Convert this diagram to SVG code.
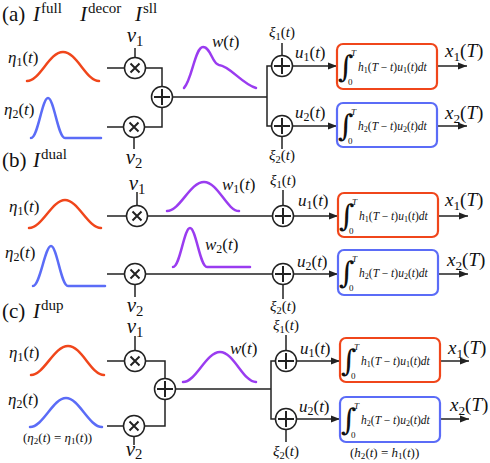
<svg xmlns="http://www.w3.org/2000/svg" width="490" height="463" viewBox="0 0 490 463">
<style>
.m{font-family:'Liberation Serif','DejaVu Serif',serif;font-style:italic;fill:#111}
.r{font-style:normal}
.sb{font-style:normal;font-size:70%}
.t{font-size:17px}
.v{font-size:21px}
.x{font-size:19px}
.xi{font-size:15px}
.h{font-size:11.5px}
.n{font-size:13px}
.w{fill:none;stroke:#222;stroke-width:1.5}
.c{fill:#fff;stroke:#222;stroke-width:1.5}
.op{stroke:#222;stroke-width:2;fill:none}
.cv{fill:none;stroke-width:2.5;stroke-linecap:round}
.or{stroke:#f0461b}
.bl{stroke:#5b6cf7}
.pu{stroke:#9a3cf0}
.box{fill:#fff;stroke-width:2.2}
.lim{font-size:9px}
.int{font-family:'DejaVu Serif',serif;font-style:italic;font-size:30px;fill:#111}
</style>
<defs>
<marker id="ah" markerWidth="10" markerHeight="8" refX="9" refY="4" orient="auto" markerUnits="userSpaceOnUse"><path d="M0,0.5 L9,4 L0,7.5 z" fill="#222"/></marker>
<g id="mulsym"><circle class="c" cx="0" cy="0" r="10.5"/><path class="op" d="M-4.5,-4.5 L4.5,4.5 M4.5,-4.5 L-4.5,4.5" stroke-width="2.4"/></g>
<g id="addsym"><circle class="c" cx="0" cy="0" r="10.5"/><path class="op" d="M-8,0 L8,0 M0,-8 L0,8"/></g>
</defs>

<!-- Titles -->
<g id="title-a"><text class="m r" x="2" y="21" font-size="21">(a)</text><text class="m" x="33" y="21" font-size="21">I<tspan class="r" font-size="15" dx="1" dy="-8">full</tspan></text><text class="m" x="80" y="21" font-size="21">I<tspan class="r" font-size="15" dx="1" dy="-8">decor</tspan></text><text class="m" x="135" y="21" font-size="21">I<tspan class="r" font-size="15" dx="1" dy="-8">sll</tspan></text></g>
<g id="title-b"><text class="m r" x="2" y="167" font-size="21">(b)</text><text class="m" x="33" y="167" font-size="21">I<tspan class="r" font-size="15" dx="1" dy="-8">dual</tspan></text></g>
<g id="title-c"><text class="m r" x="2" y="318" font-size="21">(c)</text><text class="m" x="33" y="318" font-size="21">I<tspan class="r" font-size="15" dx="1" dy="-8">dup</tspan></text></g>

<!-- Connectors -->
<g id="connectors">
<path class="w" d="M107,68 H124.5 M135,48 V57.5 M145.5,68 H162 V86.5 M107,127 H123.5 M134,137.5 V149 M144.5,127 H162 V107.5 M172.5,97 H267 M271.5,66 H267 V126 H271.5 M282,43 V55.5 M282,136.5 V149"/>
<line class="w" x1="292.5" y1="66" x2="337" y2="66" marker-end="url(#ah)"/>
<line class="w" x1="292.5" y1="126" x2="337" y2="126" marker-end="url(#ah)"/>
<line class="w" x1="437" y1="66" x2="467" y2="66" marker-end="url(#ah)"/>
<line class="w" x1="437" y1="126" x2="467" y2="126" marker-end="url(#ah)"/>
<path class="w" d="M107,216 H126 M137,192 V205.5 M147.5,216 H272.5 M107,274 H124.5 M135,284.5 V297 M145.5,274 H272.5 M283,190 V205.5 M283,284.5 V299"/>
<line class="w" x1="293.5" y1="216" x2="338" y2="216" marker-end="url(#ah)"/>
<line class="w" x1="293.5" y1="274" x2="338" y2="274" marker-end="url(#ah)"/>
<line class="w" x1="438" y1="216" x2="468" y2="216" marker-end="url(#ah)"/>
<line class="w" x1="438" y1="274" x2="468" y2="274" marker-end="url(#ah)"/>
<path class="w" d="M107,361 H124.5 M135,336 V350.5 M145.5,361 H165 V378.5 M107,426 H123.5 M134,436.5 V445 M144.5,426 H165 V399.5 M175.5,389 H271 M275.5,361 H271 V419 H275.5 M286,335 V350.5 M286,429.5 V442"/>
<line class="w" x1="296.5" y1="361" x2="340" y2="361" marker-end="url(#ah)"/>
<line class="w" x1="296.5" y1="419" x2="340" y2="419" marker-end="url(#ah)"/>
<line class="w" x1="440" y1="361" x2="469" y2="361" marker-end="url(#ah)"/>
<line class="w" x1="440" y1="419" x2="469" y2="419" marker-end="url(#ah)"/>
</g>

<!-- Panel (a) nodes -->
<g id="a-eta1"><path class="cv or" d="M27,81 C40,81 49,52 63,52 C77,52 86,81 99,81"/><text class="m t" x="8" y="63">η<tspan class="sb" dy="3">1</tspan><tspan class="r" dy="-3">(</tspan>t<tspan class="r">)</tspan></text></g>
<g id="a-eta2"><path class="cv bl" d="M31,138 C38,138 42,98 48,98 C54,98 58,138 65,138 L101,138"/><text class="m t" x="4" y="115">η<tspan class="sb" dy="3">2</tspan><tspan class="r" dy="-3">(</tspan>t<tspan class="r">)</tspan></text></g>
<g id="a-mul1"><use href="#mulsym" x="135" y="68"/><text class="m v" x="135" y="42" text-anchor="middle">v<tspan class="sb" dy="4">1</tspan></text></g>
<g id="a-mul2"><use href="#mulsym" x="134" y="127"/><text class="m v" x="134" y="164" text-anchor="middle">v<tspan class="sb" dy="4">2</tspan></text></g>
<g id="a-sum"><use href="#addsym" x="162" y="97"/></g>
<g id="a-w"><path class="cv pu" d="M184,88 C192,80 195,47 203,47 C211,47 212,64 219,65 C230,66 242,84 256,88"/><text class="m t" x="212" y="47">w<tspan class="r">(</tspan>t<tspan class="r">)</tspan></text></g>
<g id="a-add1"><use href="#addsym" x="282" y="66"/><text class="m xi" x="282" y="37" text-anchor="middle">ξ<tspan class="sb" dy="3">1</tspan><tspan class="r" dy="-3">(</tspan>t<tspan class="r">)</tspan></text></g>
<g id="a-add2"><use href="#addsym" x="282" y="126"/><text class="m xi" x="282" y="160" text-anchor="middle">ξ<tspan class="sb" dy="3">2</tspan><tspan class="r" dy="-3">(</tspan>t<tspan class="r">)</tspan></text></g>
<g id="a-u1"><text class="m t" x="295" y="58">u<tspan class="sb" dy="3">1</tspan><tspan class="r" dy="-3">(</tspan>t<tspan class="r">)</tspan></text></g>
<g id="a-u2"><text class="m t" x="295" y="118">u<tspan class="sb" dy="3">2</tspan><tspan class="r" dy="-3">(</tspan>t<tspan class="r">)</tspan></text></g>
<g id="a-box1"><rect class="box or" x="337" y="44" width="100" height="45" rx="6"/><text class="int" x="338" y="77">∫</text><text class="m lim" x="351" y="56">T</text><text class="m r lim" x="348" y="85">0</text><text class="m h" x="358" y="71">h<tspan class="sb" dy="2">1</tspan><tspan class="r" dy="-2">(</tspan>T <tspan class="r">−</tspan> t<tspan class="r">)</tspan>u<tspan class="sb" dy="2">1</tspan><tspan class="r" dy="-2">(</tspan>t<tspan class="r">)</tspan>dt</text></g>
<g id="a-box2"><rect class="box bl" x="337" y="103" width="100" height="44" rx="6"/><text class="int" x="338" y="136">∫</text><text class="m lim" x="351" y="115">T</text><text class="m r lim" x="348" y="144">0</text><text class="m h" x="358" y="130">h<tspan class="sb" dy="2">2</tspan><tspan class="r" dy="-2">(</tspan>T <tspan class="r">−</tspan> t<tspan class="r">)</tspan>u<tspan class="sb" dy="2">2</tspan><tspan class="r" dy="-2">(</tspan>t<tspan class="r">)</tspan>dt</text></g>
<g id="a-x1"><text class="m x" x="445" y="57">x<tspan class="sb" dy="4">1</tspan><tspan class="r" dy="-4">(</tspan>T<tspan class="r">)</tspan></text></g>
<g id="a-x2"><text class="m x" x="445" y="119">x<tspan class="sb" dy="4">2</tspan><tspan class="r" dy="-4">(</tspan>T<tspan class="r">)</tspan></text></g>

<!-- Panel (b) nodes -->
<g id="b-eta1"><path class="cv or" d="M29,228 C42,228 52,200 65,200 C78,200 88,228 101,228"/><text class="m t" x="9" y="212">η<tspan class="sb" dy="3">1</tspan><tspan class="r" dy="-3">(</tspan>t<tspan class="r">)</tspan></text></g>
<g id="b-eta2"><path class="cv bl" d="M33,286 C40,286 45,246 51,246 C57,246 61,286 68,286 L105,286"/><text class="m t" x="5" y="258">η<tspan class="sb" dy="3">2</tspan><tspan class="r" dy="-3">(</tspan>t<tspan class="r">)</tspan></text></g>
<g id="b-mul1"><use href="#mulsym" x="137" y="216"/><text class="m v" x="137" y="190" text-anchor="middle">v<tspan class="sb" dy="4">1</tspan></text></g>
<g id="b-mul2"><use href="#mulsym" x="135" y="274"/><text class="m v" x="135" y="312" text-anchor="middle">v<tspan class="sb" dy="4">2</tspan></text></g>
<g id="b-w1"><path class="cv pu" d="M167,211 C180,211 190,182 204,182 C218,182 227,211 239,211"/><text class="m t" x="222" y="190">w<tspan class="sb" dy="3">1</tspan><tspan class="r" dy="-3">(</tspan>t<tspan class="r">)</tspan></text></g>
<g id="b-w2"><path class="cv pu" d="M173,267 C180,267 184,228 190,228 C196,228 200,267 207,267 L250,267"/><text class="m t" x="205" y="250">w<tspan class="sb" dy="3">2</tspan><tspan class="r" dy="-3">(</tspan>t<tspan class="r">)</tspan></text></g>
<g id="b-add1"><use href="#addsym" x="283" y="216"/><text class="m xi" x="283" y="185" text-anchor="middle">ξ<tspan class="sb" dy="3">1</tspan><tspan class="r" dy="-3">(</tspan>t<tspan class="r">)</tspan></text></g>
<g id="b-add2"><use href="#addsym" x="283" y="274"/><text class="m xi" x="283" y="311" text-anchor="middle">ξ<tspan class="sb" dy="3">2</tspan><tspan class="r" dy="-3">(</tspan>t<tspan class="r">)</tspan></text></g>
<g id="b-u1"><text class="m t" x="298" y="206">u<tspan class="sb" dy="3">1</tspan><tspan class="r" dy="-3">(</tspan>t<tspan class="r">)</tspan></text></g>
<g id="b-u2"><text class="m t" x="297" y="267">u<tspan class="sb" dy="3">2</tspan><tspan class="r" dy="-3">(</tspan>t<tspan class="r">)</tspan></text></g>
<g id="b-box1"><rect class="box or" x="338" y="193" width="100" height="44" rx="6"/><text class="int" x="339" y="226">∫</text><text class="m lim" x="352" y="205">T</text><text class="m r lim" x="349" y="234">0</text><text class="m h" x="359" y="220">h<tspan class="sb" dy="2">1</tspan><tspan class="r" dy="-2">(</tspan>T <tspan class="r">−</tspan> t<tspan class="r">)</tspan>u<tspan class="sb" dy="2">1</tspan><tspan class="r" dy="-2">(</tspan>t<tspan class="r">)</tspan>dt</text></g>
<g id="b-box2"><rect class="box bl" x="338" y="250" width="100" height="45" rx="6"/><text class="int" x="339" y="283">∫</text><text class="m lim" x="352" y="262">T</text><text class="m r lim" x="349" y="291">0</text><text class="m h" x="359" y="277">h<tspan class="sb" dy="2">2</tspan><tspan class="r" dy="-2">(</tspan>T <tspan class="r">−</tspan> t<tspan class="r">)</tspan>u<tspan class="sb" dy="2">2</tspan><tspan class="r" dy="-2">(</tspan>t<tspan class="r">)</tspan>dt</text></g>
<g id="b-x1"><text class="m x" x="445" y="206">x<tspan class="sb" dy="4">1</tspan><tspan class="r" dy="-4">(</tspan>T<tspan class="r">)</tspan></text></g>
<g id="b-x2"><text class="m x" x="447" y="266">x<tspan class="sb" dy="4">2</tspan><tspan class="r" dy="-4">(</tspan>T<tspan class="r">)</tspan></text></g>

<!-- Panel (c) nodes -->
<g id="c-eta1"><path class="cv or" d="M31,375 C44,375 54,346 68,346 C82,346 91,375 104,375"/><text class="m t" x="9" y="358">η<tspan class="sb" dy="3">1</tspan><tspan class="r" dy="-3">(</tspan>t<tspan class="r">)</tspan></text></g>
<g id="c-eta2"><path class="cv bl" d="M30,427 C43,427 53,398 66,398 C79,398 89,427 102,427"/><text class="m t" x="8" y="405">η<tspan class="sb" dy="3">2</tspan><tspan class="r" dy="-3">(</tspan>t<tspan class="r">)</tspan></text><text class="m n" x="23" y="442"><tspan class="r">(</tspan>η<tspan class="sb" dy="2">2</tspan><tspan class="r" dy="-2">(</tspan>t<tspan class="r">) = </tspan>η<tspan class="sb" dy="2">1</tspan><tspan class="r" dy="-2">(</tspan>t<tspan class="r">))</tspan></text></g>
<g id="c-mul1"><use href="#mulsym" x="135" y="361"/><text class="m v" x="135" y="333" text-anchor="middle">v<tspan class="sb" dy="4">1</tspan></text></g>
<g id="c-mul2"><use href="#mulsym" x="134" y="426"/><text class="m v" x="134" y="456" text-anchor="middle">v<tspan class="sb" dy="3">2</tspan></text></g>
<g id="c-sum"><use href="#addsym" x="165" y="389"/></g>
<g id="c-w"><path class="cv pu" d="M183,382 C196,382 206,352 220,352 C234,352 243,382 256,382"/><text class="m t" x="230" y="354">w<tspan class="r">(</tspan>t<tspan class="r">)</tspan></text></g>
<g id="c-add1"><use href="#addsym" x="286" y="361"/><text class="m xi" x="286" y="330" text-anchor="middle">ξ<tspan class="sb" dy="3">1</tspan><tspan class="r" dy="-3">(</tspan>t<tspan class="r">)</tspan></text></g>
<g id="c-add2"><use href="#addsym" x="286" y="419"/><text class="m xi" x="286" y="456" text-anchor="middle">ξ<tspan class="sb" dy="3">2</tspan><tspan class="r" dy="-3">(</tspan>t<tspan class="r">)</tspan></text></g>
<g id="c-u1"><text class="m t" x="300" y="354">u<tspan class="sb" dy="3">1</tspan><tspan class="r" dy="-3">(</tspan>t<tspan class="r">)</tspan></text></g>
<g id="c-u2"><text class="m t" x="299" y="412">u<tspan class="sb" dy="3">2</tspan><tspan class="r" dy="-3">(</tspan>t<tspan class="r">)</tspan></text></g>
<g id="c-box1"><rect class="box or" x="340" y="338" width="100" height="44" rx="6"/><text class="int" x="341" y="371">∫</text><text class="m lim" x="354" y="350">T</text><text class="m r lim" x="351" y="379">0</text><text class="m h" x="361" y="365">h<tspan class="sb" dy="2">1</tspan><tspan class="r" dy="-2">(</tspan>T <tspan class="r">−</tspan> t<tspan class="r">)</tspan>u<tspan class="sb" dy="2">1</tspan><tspan class="r" dy="-2">(</tspan>t<tspan class="r">)</tspan>dt</text></g>
<g id="c-box2"><rect class="box bl" x="340" y="397" width="100" height="45" rx="6"/><text class="int" x="341" y="430">∫</text><text class="m lim" x="354" y="409">T</text><text class="m r lim" x="351" y="438">0</text><text class="m h" x="361" y="424">h<tspan class="sb" dy="2">2</tspan><tspan class="r" dy="-2">(</tspan>T <tspan class="r">−</tspan> t<tspan class="r">)</tspan>u<tspan class="sb" dy="2">2</tspan><tspan class="r" dy="-2">(</tspan>t<tspan class="r">)</tspan>dt</text><text class="m n" x="350" y="457"><tspan class="r">(</tspan>h<tspan class="sb" dy="2">2</tspan><tspan class="r" dy="-2">(</tspan>t<tspan class="r">) = </tspan>h<tspan class="sb" dy="2">1</tspan><tspan class="r" dy="-2">(</tspan>t<tspan class="r">))</tspan></text></g>
<g id="c-x1"><text class="m x" x="448" y="354">x<tspan class="sb" dy="4">1</tspan><tspan class="r" dy="-4">(</tspan>T<tspan class="r">)</tspan></text></g>
<g id="c-x2"><text class="m x" x="450" y="411">x<tspan class="sb" dy="4">2</tspan><tspan class="r" dy="-4">(</tspan>T<tspan class="r">)</tspan></text></g>
</svg>
